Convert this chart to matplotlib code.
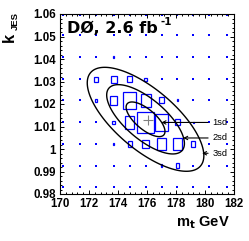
import numpy as np
import matplotlib
matplotlib.use("Agg")
import matplotlib.pyplot as plt
from matplotlib.patches import Rectangle
from matplotlib.ticker import MultipleLocator, FuncFormatter

plt.rcParams["font.family"] = ["Liberation Sans", "DejaVu Sans"]

# ---------- Data ----------
# bin centres of the likelihood grid
mt_bins = [170.2, 171.4, 172.5, 173.7, 174.8, 175.9, 177.0, 178.1, 179.2, 180.3, 181.5]
kjes_bins = [1.0596, 1.0507, 1.0409, 1.0309, 1.0216, 1.0118, 1.0022, 0.9926, 0.9832]

# relative box size per bin (rows follow kjes_bins, columns follow mt_bins)
box_size = [
    [0, 0, 0, 0,    0,    0,    0,    0,    0,    0, 0],
    [0, 0, 0, 0,    0,    0,    0,    0,    0,    0, 0],
    [0, 0, 0,    0.08, 0,    0,    0,    0,    0,    0, 0],
    [0, 0, 0.26, 0.36, 0.28, 0.13, 0,    0,    0,    0, 0],
    [0, 0, 0.14, 0.45, 0.77, 0.61, 0.28, 0.10, 0,    0, 0],
    [0, 0, 0,    0.18, 0.59, 1.00, 0.81, 0.28, 0.08, 0, 0],
    [0, 0, 0,    0.08, 0.24, 0.38, 0.56, 0.56, 0.25, 0, 0],
    [0, 0, 0,    0,    0,    0,    0.12, 0.22, 0,    0, 0],
    [0, 0, 0,    0,    0,    0,    0,    0,    0,    0, 0],
]

# fitted likelihood (gaussian approximation)
fit_mt, fit_kjes = 175.9, 1.0132
sig_mt, sig_kjes, rho = 1.34, 0.0077, -0.70
sd_levels = [1, 4, 9]
sd_labels = ["1sd", "2sd", "3sd"]
sd_label_kjes = [1.0118, 1.0049, 0.9981]
sd_tip_mt = [177.0, 178.5, 179.8]
sd_label_mt = 180.5

# input value marker
cross_mt, cross_kjes = 176.05, 1.0128

# ---------- Figure ----------
fig = plt.figure(figsize=(2.49, 2.41), dpi=100)
ax = fig.add_axes([60 / 249, 1 - 194 / 241, 174 / 249, 180 / 241])
ax.set_xlim(170, 182)
ax.set_ylim(0.98, 1.06)

bw_mt = np.mean(np.diff(mt_bins))
bw_k = np.mean(np.abs(np.diff(kjes_bins)))

dots_x, dots_y = [], []
for j, k in enumerate(kjes_bins):
    for i, m in enumerate(mt_bins):
        f = box_size[j][i]
        if f > 0:
            w, h = f * bw_mt, f * bw_k
            ax.add_patch(Rectangle((m - w / 2, k - h / 2), w, h, fill=False,
                                   edgecolor="blue", lw=0.9, clip_on=False))
        else:
            dots_x.append(m)
            dots_y.append(k)
ax.scatter(dots_x, dots_y, s=1.6, marker="s", color="blue", linewidths=0, clip_on=False)

# contours
gx, gy = np.meshgrid(np.linspace(170, 182, 400), np.linspace(0.98, 1.06, 400))
u = (gx - fit_mt) / sig_mt
v = (gy - fit_kjes) / sig_kjes
chi2 = (u ** 2 - 2 * rho * u * v + v ** 2) / (1 - rho ** 2)
ax.contour(gx, gy, chi2, levels=sd_levels, colors="black", linewidths=1.0)

ax.plot(cross_mt, cross_kjes, marker="+", ms=7, mew=0.8, color="gray")

for lab, ky, tip in zip(sd_labels, sd_label_kjes, sd_tip_mt):
    ax.annotate(lab, xy=(tip, ky), xytext=(sd_label_mt, ky), fontsize=6.7,
                ha="left", va="center",
                arrowprops=dict(arrowstyle="->,head_length=0.35,head_width=0.18",
                                lw=0.8, color="black", shrinkA=1, shrinkB=0))

# ---------- Axes style ----------
ax.xaxis.set_major_locator(MultipleLocator(2))
ax.xaxis.set_minor_locator(MultipleLocator(0.4))
ax.yaxis.set_major_locator(MultipleLocator(0.01))
ax.yaxis.set_minor_locator(MultipleLocator(0.002))
ax.yaxis.set_major_formatter(FuncFormatter(lambda val, pos: f"{val:g}"))
ax.tick_params(which="both", direction="in", top=True, right=True, width=0.7)
ax.tick_params(which="major", length=3.2, labelsize=8.3, pad=3)
ax.tick_params(which="minor", length=1.6)
for lbl in ax.get_xticklabels() + ax.get_yticklabels():
    lbl.set_fontweight("bold")
for sp in ax.spines.values():
    sp.set_linewidth(0.8)

ax.text(0.0385, 0.892, "DØ, 2.6 fb", transform=ax.transAxes, fontsize=11.5,
        fontweight="bold", family="DejaVu Sans", ha="left", va="baseline")
ax.text(0.579, 0.937, "-1", transform=ax.transAxes, fontsize=7.5,
        fontweight="bold", family="DejaVu Sans", ha="left", va="baseline")

fig.text(9 / 249, 1 - 37 / 241, "k", fontsize=12, fontweight="bold",
         rotation=90, ha="center", va="center")
fig.text(15.5 / 249, 1 - 20.5 / 241, "JES", fontsize=6.8, fontweight="bold",
         rotation=90, ha="center", va="center")
fig.text(230 / 249, 1 - 223 / 241, r"m$_{\mathbf{t}}$ GeV", fontsize=10.5,
         fontweight="bold", ha="right", va="center")

fig.savefig("out.png", dpi=100)
